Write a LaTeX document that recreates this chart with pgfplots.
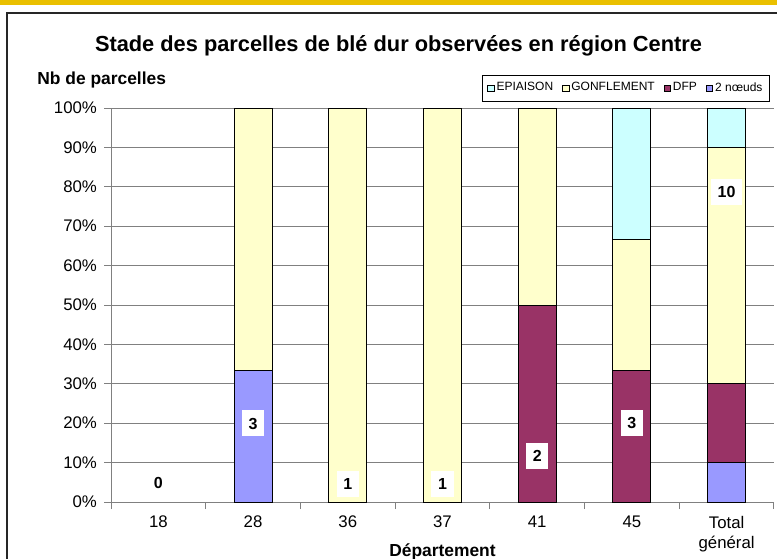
\documentclass[border=0pt]{standalone}
\usepackage{pgfplots}
\pgfplotsset{compat=1.18}
\usepackage{fontspec}
\setmainfont{Liberation Sans}
\definecolor{noeud}{RGB}{153,153,255}
\definecolor{dfp}{RGB}{153,51,102}
\definecolor{gonf}{RGB}{255,255,204}
\definecolor{epi}{RGB}{204,255,255}
\definecolor{gridc}{RGB}{128,128,128}
\definecolor{topbar}{RGB}{234,192,0}
\pgfplotsset{
  common/.style={at={(55.5pt,-251pt)}, anchor=south west, scale only axis,
    width=331.5pt, height=197pt, xmin=-0.5, xmax=6.5, ymin=0, ymax=100, enlargelimits=false},
  sqleg/.style={legend image code/.code={\draw[##1,draw=black,line width=0.4pt] (0pt,-1.6pt) rectangle (3.2pt,1.6pt);}}
}
\begin{document}
\begin{tikzpicture}
\useasboundingbox (0,0) rectangle (388.5pt,-279pt);
\fill[white] (0,0) rectangle (388.5pt,-279pt);
\fill[topbar] (0,0) rectangle (388.5pt,-2.5pt);
\draw[line width=0.6pt, black!85] (3.5pt,-6.5pt) rectangle (450pt,-350pt);
\node[anchor=base, font=\bfseries\fontsize{10.9}{12}\selectfont] at (199.25pt,-25.5pt) {Stade des parcelles de blé dur observées en région Centre};
\node[anchor=base west, inner sep=0pt, font=\bfseries\fontsize{8.7}{10}\selectfont] at (18.5pt,-42pt) {Nb de parcelles};
\node[anchor=base, inner sep=0pt, font=\bfseries\fontsize{8.7}{10}\selectfont] at (221.25pt,-278.3pt) {Département};
\begin{axis}[common,
  ybar stacked, bar width=19pt,
  axis x line*=bottom, axis y line*=left,
  axis line style={gridc, line width=0.5pt, -},
  ymajorgrids, grid style={gridc, line width=0.5pt},
  ytick={0,10,...,100},
  yticklabels={0\%,10\%,20\%,30\%,40\%,50\%,60\%,70\%,80\%,90\%,100\%},
  xtick={0,...,6},
  xticklabels={18,28,36,37,41,45,Total\\général},
  minor xtick={-0.5,0.5,...,6.5},
  tick align=outside, major tick length=3.5pt, minor tick length=3.5pt,
  major x tick style={draw=none},
  minor x tick style={gridc, line width=0.5pt},
  y tick style={gridc, line width=0.5pt},
  tick label style={font=\fontsize{8.4}{10}\selectfont},
  xticklabel style={align=center},
  legend style={at={(0.994,1.084)}, anchor=north east, draw=black, line width=0.5pt,
    font=\fontsize{6}{7}\selectfont, legend columns=4,
    nodes={inner xsep=1pt, inner ysep=2pt},
    /tikz/every even column/.append style={column sep=3.5pt},
    inner xsep=2.5pt, inner ysep=1.5pt, legend cell align=left},
  reverse legend,
]
\addplot[fill=noeud, draw=black, line width=0.5pt, sqleg] coordinates {(0,0) (1,33.33) (2,0) (3,0) (4,0) (5,0) (6,10)};
\addplot[fill=dfp, draw=black, line width=0.5pt, sqleg] coordinates {(0,0) (1,0) (2,0) (3,0) (4,50) (5,33.33) (6,20)};
\addplot[fill=gonf, draw=black, line width=0.5pt, sqleg] coordinates {(0,0) (1,66.67) (2,100) (3,100) (4,50) (5,33.34) (6,60)};
\addplot[fill=epi, draw=black, line width=0.5pt, sqleg] coordinates {(0,0) (1,0) (2,0) (3,0) (4,0) (5,33.33) (6,10)};
\legend{2 nœuds, DFP, GONFLEMENT, EPIAISON}
\end{axis}
\begin{axis}[common, hide axis]
\addplot[draw=none, mark=none, nodes near coords, point meta=explicit symbolic,
  every node near coord/.append style={anchor=center, fill=white, inner xsep=3.3pt, inner ysep=3.6pt,
    text height=5.8pt, text depth=0pt, font=\bfseries\fontsize{8}{9}\selectfont}]
  table[meta=lab] {
x y lab
0 4.8 0
1 20.0 3
2 4.6 1
3 4.6 1
4 11.7 2
5 20.1 3
6 78.8 10
};
\end{axis}
\end{tikzpicture}
\end{document}
